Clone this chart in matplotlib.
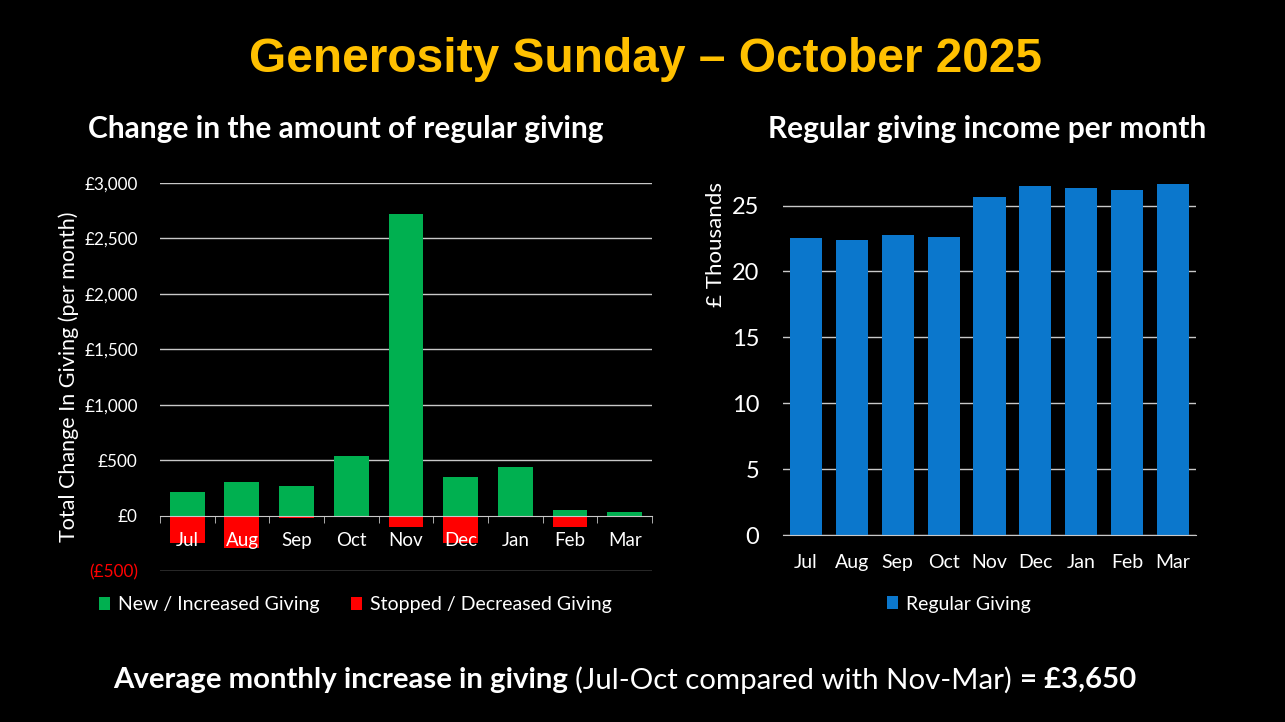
import matplotlib.pyplot as plt
import numpy as np

# data
months = ['Jul', 'Aug', 'Sep', 'Oct', 'Nov', 'Dec', 'Jan', 'Feb', 'Mar']
new_increased = [210, 300, 270, 540, 2725, 345, 440, 50, 30]
stopped_decreased = [-250, -295, -25, 0, -100, -250, 0, -100, 0]
regular_giving = [22.5, 22.4, 22.8, 22.6, 25.65, 26.5, 26.3, 26.2, 26.65]

FONT = 'Lato'
GREEN = '#00B050'
RED = '#FF0000'
BLUE = '#0B77CC'
GRID = '#C8C8C8'

fig = plt.figure(figsize=(12.85, 7.22), dpi=100)
fig.patch.set_facecolor('black')

# titles
fig.text(0.502, 0.918, 'Generosity Sunday \u2013 October 2025', ha='center', va='center',
         color='#FFC000', fontsize=34.5, fontweight='bold', family='Liberation Sans')
fig.text(0.269, 0.822, 'Change in the amount of regular giving', ha='center', va='center',
         color='white', fontsize=21.5, fontweight='bold', family=FONT)
fig.text(0.768, 0.822, 'Regular giving income per month', ha='center', va='center',
         color='white', fontsize=21.5, fontweight='bold', family=FONT)

x = np.arange(len(months))

# ---- left chart
ax1 = fig.add_axes([0.1245, 0.2091, 0.3829, 0.5374])
ax1.set_facecolor('black')
ax1.bar(x, new_increased, width=0.64, color=GREEN, label='New / Increased Giving', zorder=2)
ax1.bar(x, stopped_decreased, width=0.64, color=RED, label='Stopped / Decreased Giving', zorder=2)
ax1.set_xlim(-0.5, len(months) - 0.5)
ax1.set_ylim(-500, 3000)
yt = [-500, 0, 500, 1000, 1500, 2000, 2500, 3000]
ax1.set_yticks(yt)
ax1.set_yticklabels(['(\u00a3500)'] + [f'\u00a3{v:,}' for v in yt[1:]], family=FONT, fontsize=12.3)
ax1.get_yticklabels()[0].set_color(RED)
for lab in ax1.get_yticklabels()[1:]:
    lab.set_color('white')
ax1.tick_params(axis='y', length=0, pad=16)
for v in yt:
    if v != 0:
        ax1.axhline(v, color=GRID, lw=1, zorder=1)
for s in ['top', 'right', 'left']:
    ax1.spines[s].set_visible(False)
ax1.spines['bottom'].set_position(('data', 0))
ax1.spines['bottom'].set_color(GRID)
ax1.spines['bottom'].set_zorder(3)
ax1.set_xticks(x)
ax1.set_xticklabels(months, family=FONT, fontsize=13.5, color='white')
ax1.set_xticks(np.arange(-0.5, len(months)), minor=True)
ax1.tick_params(axis='x', which='major', length=0, pad=12)
ax1.tick_params(axis='x', which='minor', length=5, color=GRID, direction='out')
ax1.xaxis.set_zorder(5)
ax1.set_ylabel('Total Change In Giving (per month)', color='white', fontsize=15.5, family=FONT)
ax1.yaxis.set_label_coords(-0.165, 0.5)
ax1.legend(loc='upper center', bbox_to_anchor=(0.397, -0.02), ncol=2, frameon=False,
           prop={'family': FONT, 'size': 14}, labelcolor='white', handlelength=0.6,
           handleheight=0.6, handletextpad=0.4, columnspacing=1.6)

# ---- right chart
ax2 = fig.add_axes([0.6093, 0.259, 0.3214, 0.4965])
ax2.set_facecolor('black')
ax2.bar(x, regular_giving, width=0.7, color=BLUE, label='Regular Giving', zorder=2)
ax2.set_xlim(-0.5, len(months) - 0.5)
ax2.set_ylim(0, 27.2)
ax2.set_yticks([0, 5, 10, 15, 20, 25])
ax2.yaxis.grid(True, color=GRID, lw=1, zorder=1)
ax2.set_axisbelow(True)
for s in ['top', 'right', 'left']:
    ax2.spines[s].set_visible(False)
ax2.spines['bottom'].set_color(GRID)
ax2.set_xticks(x)
ax2.set_xticklabels(months)
ax2.tick_params(axis='x', length=0, pad=14, labelcolor='white', labelsize=14)
ax2.tick_params(axis='y', length=0, pad=17, labelcolor='white', labelsize=17)
for lab in ax2.get_xticklabels() + ax2.get_yticklabels():
    lab.set_family(FONT)
ax2.set_ylabel('\u00a3 Thousands', color='white', fontsize=16, family=FONT, loc='top')
ax2.yaxis.set_label_coords(-0.138, 0.985)
ax2.legend(loc='upper center', bbox_to_anchor=(0.426, -0.12), frameon=False,
           prop={'family': FONT, 'size': 14}, labelcolor='white', handlelength=0.6,
           handleheight=0.6, handletextpad=0.4)

# ---- bottom summary line, mixed weights
parts = [('Average monthly increase in giving ', 'bold'),
         ('(Jul-Oct compared with Nov-Mar) ', 'normal'),
         ('= \u00a33,650', 'bold')]
fig.canvas.draw()
r = fig.canvas.get_renderer()
texts = []
for s, w in parts:
    t = fig.text(0, 0.058, s, color='white', fontsize=21.2, fontweight=w, family=FONT, va='center')
    texts.append(t)
widths = [t.get_window_extent(r).width for t in texts]
total = sum(widths)
xpos = 0.486 * fig.bbox.width - total / 2
for t, w in zip(texts, widths):
    t.set_x(xpos / fig.bbox.width)
    xpos += w

fig.savefig('out.png', dpi=100, facecolor='black')
